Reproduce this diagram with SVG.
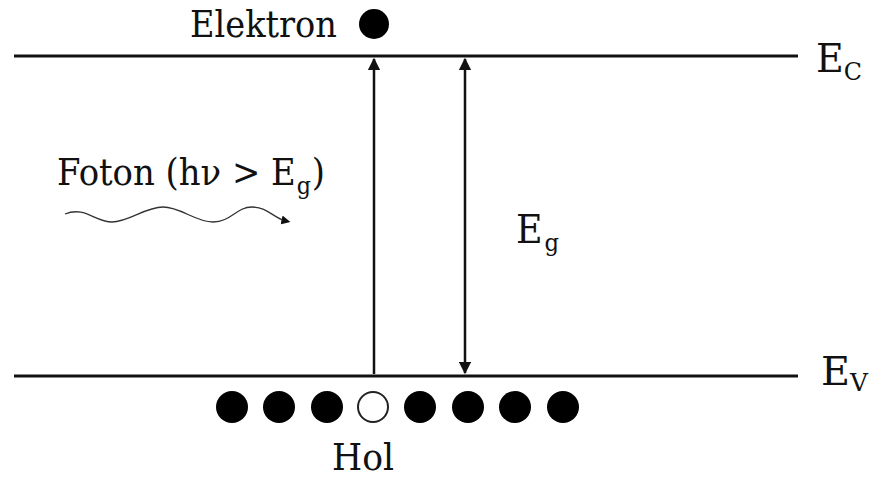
<svg xmlns="http://www.w3.org/2000/svg" width="872" height="479" viewBox="0 0 872 479">
<style>
text{font-family:"DejaVu Serif",serif;fill:#111;}
.t{font-size:38px;}
.e{font-size:40px;}
.s{font-size:25px;}
.lvl{stroke:#111;stroke-width:3;fill:none;}
.ar{stroke:#111;stroke-width:2.5;fill:none;}
.full{fill:#000;}
.hole{fill:#fff;stroke:#222;stroke-width:2;}
</style>
<defs>
<marker id="ah" viewBox="0 0 10 10" refX="9" refY="5" markerWidth="5" markerHeight="5" orient="auto-start-reverse" markerUnits="strokeWidth">
<path d="M0,0 L10,5 L0,10 z" fill="#111"/>
</marker>
<marker id="wh" viewBox="0 0 10 10" refX="5" refY="5" markerWidth="7" markerHeight="7" orient="auto" markerUnits="strokeWidth">
<path d="M0,0 L10,5 L0,10 z" fill="#111"/>
</marker>
</defs>
<g id="ec-level">
<line class="lvl" x1="14" y1="56" x2="798" y2="56"/>
<text class="e" x="816" y="72" textLength="46" lengthAdjust="spacingAndGlyphs">E<tspan class="s" dy="8">C</tspan></text>
</g>
<g id="ev-level">
<line class="lvl" x1="14" y1="376" x2="798" y2="376"/>
<text class="e" x="821" y="385" textLength="47" lengthAdjust="spacingAndGlyphs">E<tspan class="s" dy="6">V</tspan></text>
</g>
<g id="elektron">
<text class="t" x="190" y="37" textLength="147" lengthAdjust="spacingAndGlyphs">Elektron</text>
<circle class="full" cx="374" cy="24" r="15"/>
</g>
<g id="foton">
<text class="t" x="57" y="185" textLength="268" lengthAdjust="spacingAndGlyphs">Foton (hν &gt; E<tspan class="s" dx="1" dy="9">g</tspan><tspan dx="1" dy="-9">)</tspan></text>
</g>
<g id="eg-label">
<text class="e" x="516" y="243" textLength="43" lengthAdjust="spacingAndGlyphs">E<tspan class="s" dx="2" dy="8">g</tspan></text>
</g>
<g id="valence-electrons">
<circle class="full" cx="232" cy="407" r="16"/>
<circle class="full" cx="279" cy="407" r="16"/>
<circle class="full" cx="327" cy="407" r="16"/>
<circle class="full" cx="420" cy="407" r="16"/>
<circle class="full" cx="468" cy="407" r="16"/>
<circle class="full" cx="515" cy="407" r="16"/>
<circle class="full" cx="563" cy="407" r="16"/>
</g>
<g id="hol">
<circle class="hole" cx="373" cy="407" r="15"/>
<text class="t" x="332" y="470" textLength="62" lengthAdjust="spacingAndGlyphs">Hol</text>
</g>
<g id="connectors">
<line class="ar" x1="374" y1="374" x2="374" y2="59" marker-end="url(#ah)"/>
<line class="ar" x1="465" y1="59" x2="465" y2="373" marker-start="url(#ah)" marker-end="url(#ah)"/>
<path d="M65,214 C85,206 95,222 112,222 S145,207 163,207 S195,222 213,222 S236,207 252,207 S273,218 286,221" stroke="#333" stroke-width="1.3" fill="none" marker-end="url(#wh)"/>
</g>
</svg>
